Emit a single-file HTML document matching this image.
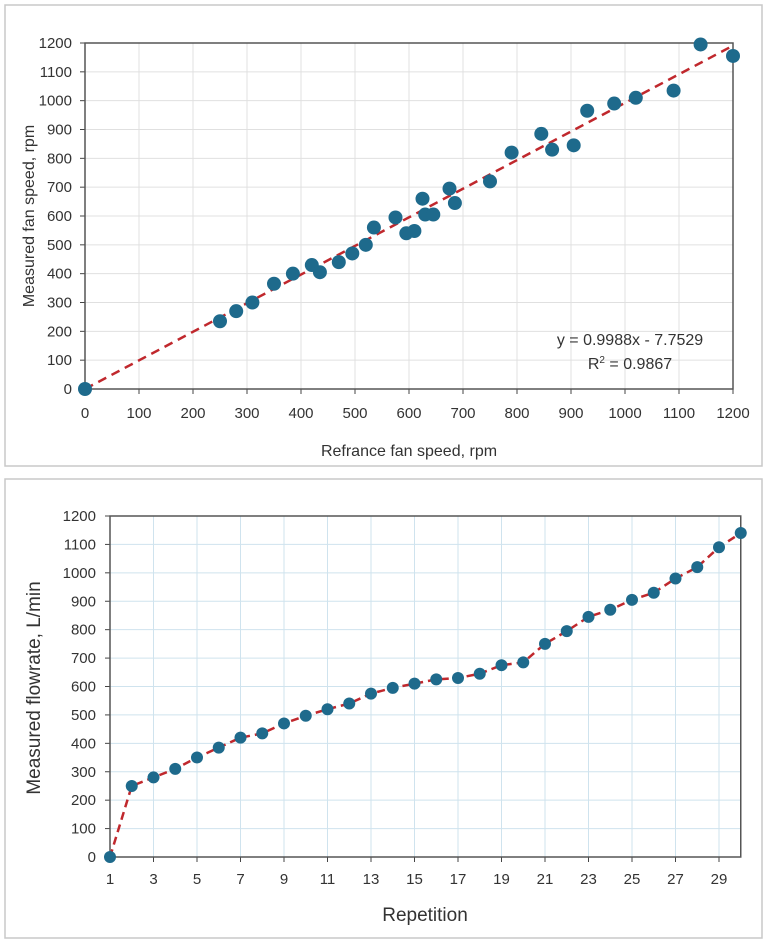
<!DOCTYPE html>
<html><head><meta charset="utf-8"><style>
body{margin:0;background:#fff;width:767px;height:944px;overflow:hidden;font-family:"Liberation Sans",sans-serif}
svg{position:absolute;left:0;top:0}
</style></head><body>
<svg id="s" width="767" height="944">
<rect x="5" y="5" width="757" height="461" fill="#fff" stroke="#c8c8c8" stroke-width="1.5"/>
<rect x="5" y="479" width="757" height="459" fill="#fff" stroke="#c8c8c8" stroke-width="1.5"/>
<g id="g1"></g><g id="g2"></g>
</svg>
<script>
const refSpeed=[0,250,280,310,350,385,420,435,470,495,520,535,575,595,610,625,630,645,675,685,750,790,845,865,905,930,980,1020,1090,1140,1200];
const measSpeed=[0,235,270,300,365,400,430,405,440,470,500,560,595,540,548,660,605,605,695,645,720,820,885,830,845,965,990,1010,1035,1195,1155];
const repetition=[1,2,3,4,5,6,7,8,9,10,11,12,13,14,15,16,17,18,19,20,21,22,23,24,25,26,27,28,29,30];
const flowrate=[0,250,280,310,350,385,420,435,470,497,520,540,575,595,610,625,630,645,675,685,750,795,845,870,905,930,980,1020,1090,1140];
const yTicks=[0,100,200,300,400,500,600,700,800,900,1000,1100,1200];
const xTicksTop=[0,100,200,300,400,500,600,700,800,900,1000,1100,1200];
const xTicksBot=[1,3,5,7,9,11,13,15,17,19,21,23,25,27,29];
const slope=0.9988, intercept=-7.7529;
const NS="http://www.w3.org/2000/svg";
function mk(p,t,a,txt){const e=document.createElementNS(NS,t);for(const k in a)e.setAttribute(k,a[k]);if(txt!==undefined)e.textContent=txt;p.appendChild(e);return e;}
// top chart
const g1=document.getElementById('g1');
const L1=85,R1=733,T1=43,B1=389;
const x1=v=>L1+(v-0)/1200*(R1-L1), y1=v=>B1-v/1200*(B1-T1);
xTicksTop.forEach(v=>{let e=mk(g1,'line',{x1:x1(v),x2:x1(v),y1:T1,y2:B1,stroke:'#e0e0e0','stroke-width':1});


let t=mk(g1,'text',{x:x1(v),y:B1+29,'text-anchor':'middle','font-size':15,fill:'#333'},v);


mk(g1,'line',{x1:x1(v),x2:x1(v),y1:B1,y2:B1+5,stroke:'#444'});});
yTicks.forEach(v=>{let e=mk(g1,'line',{x1:L1,x2:R1,y1:y1(v),y2:y1(v),stroke:'#e0e0e0','stroke-width':1});


let t=mk(g1,'text',{x:L1-13,y:y1(v)+5,'text-anchor':'end','font-size':15,fill:'#333'},v);


mk(g1,'line',{x1:L1-5,x2:L1,y1:y1(v),y2:y1(v),stroke:'#444'});});
let f1=mk(g1,'rect',{x:L1,y:T1,width:R1-L1,height:B1-T1,fill:'none',stroke:'#555','stroke-width':1.5});

let tl=mk(g1,'line',{x1:x1(0),y1:y1(Math.max(0,intercept)),x2:x1(1200),y2:y1(slope*1200+intercept),stroke:'#c0282d','stroke-width':2.5,'stroke-dasharray':'9,6'});


refSpeed.forEach((v,i)=>{let c=mk(g1,'circle',{cx:x1(v),cy:y1(measSpeed[i]),r:7,fill:'#1e6a8c'});

});
let eq=mk(g1,'text',{x:630,y:345,'text-anchor':'middle','font-size':16,fill:'#333'},'y = 0.9988x - 7.7529');

let r2=mk(g1,'text',{x:630,y:369,'text-anchor':'middle','font-size':16,fill:'#333'});

r2.innerHTML='R<tspan dy="-6" font-size="10">2</tspan><tspan dy="6"> = 0.9867</tspan>';
let xt=mk(g1,'text',{x:409,y:456,'text-anchor':'middle','font-size':16,fill:'#333'},'Refrance fan speed, rpm');

let yt=mk(g1,'text',{x:0,y:0,'text-anchor':'middle','font-size':16,fill:'#333',transform:'translate(34,216) rotate(-90)'},'Measured fan speed, rpm');

// bottom chart
const g2=document.getElementById('g2');
const L2=110,R2=740.75,T2=516,B2=857;
const x2=v=>L2+(v-1)/29*(R2-L2), y2=v=>B2-v/1200*(B2-T2);
xTicksBot.forEach(v=>{let e=mk(g2,'line',{x1:x2(v),x2:x2(v),y1:T2,y2:B2,stroke:'#cfe3ee','stroke-width':1});


let t=mk(g2,'text',{x:x2(v),y:B2+27,'text-anchor':'middle','font-size':15,fill:'#333'},v);


mk(g2,'line',{x1:x2(v),x2:x2(v),y1:B2,y2:B2+5,stroke:'#444'});});
yTicks.forEach(v=>{let e=mk(g2,'line',{x1:L2,x2:R2,y1:y2(v),y2:y2(v),stroke:'#cfe3ee','stroke-width':1});


let t=mk(g2,'text',{x:L2-14,y:y2(v)+5,'text-anchor':'end','font-size':15,fill:'#333'},v);


mk(g2,'line',{x1:L2-5,x2:L2,y1:y2(v),y2:y2(v),stroke:'#444'});});
let f2=mk(g2,'rect',{x:L2,y:T2,width:R2-L2,height:B2-T2,fill:'none',stroke:'#555','stroke-width':1.5});

let pl=mk(g2,'polyline',{points:repetition.map((r,i)=>x2(r)+','+y2(flowrate[i])).join(' '),fill:'none',stroke:'#c0282d','stroke-width':2.5,'stroke-dasharray':'8,5'});


repetition.forEach((r,i)=>{let c=mk(g2,'circle',{cx:x2(r),cy:y2(flowrate[i]),r:6,fill:'#1e6a8c'});

});
let xt2=mk(g2,'text',{x:425,y:921,'text-anchor':'middle','font-size':19,fill:'#333'},'Repetition');

let yt2=mk(g2,'text',{x:0,y:0,'text-anchor':'middle','font-size':19,fill:'#333',transform:'translate(40,688) rotate(-90)'},'Measured flowrate, L/min');

</script>
</body></html>
